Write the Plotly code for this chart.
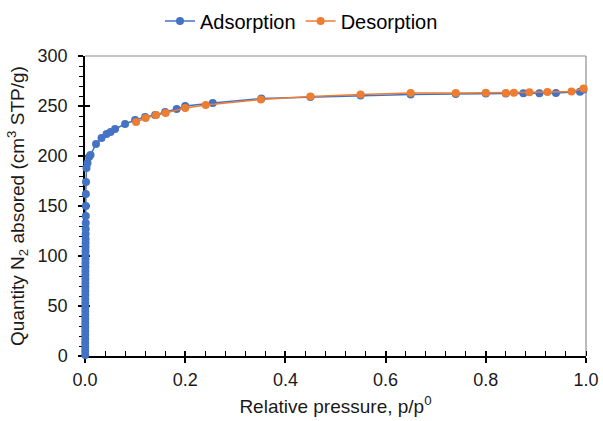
import plotly.graph_objects as go

# Adsorption branch
ads_x = [0.0004, 0.0004, 0.0004, 0.0004, 0.0005, 0.0005, 0.0005, 0.0005, 0.0005, 0.0005,
         0.0006, 0.0006, 0.0006, 0.0006, 0.0006, 0.0007, 0.0007, 0.0007, 0.0007, 0.0008,
         0.0008, 0.0008, 0.0009, 0.0009, 0.0010, 0.0010, 0.0011, 0.0011, 0.0012, 0.0012,
         0.0013, 0.0014, 0.0015, 0.0016, 0.0017, 0.0018, 0.0020,
         0.003, 0.005, 0.008, 0.011, 0.022, 0.033, 0.043, 0.051, 0.060, 0.080,
         0.100, 0.120, 0.140, 0.160, 0.183, 0.200, 0.255, 0.352, 0.450, 0.550,
         0.650, 0.740, 0.800, 0.840, 0.875, 0.907, 0.940, 0.988, 0.995]
ads_y = [1, 5, 9, 13, 17, 21, 25, 29, 33, 37,
         41, 45, 49, 53, 57, 61, 65, 69, 73, 77,
         81, 85, 89, 93, 97, 101, 105, 109, 113, 117,
         122, 127, 133, 140, 150, 162, 174,
         188, 193, 199, 201, 212, 218, 222, 224, 227, 232,
         236, 239, 241, 244, 247, 250, 253, 257.5, 259, 260.5,
         261.5, 262, 262.5, 262.5, 262.7, 262.7, 263, 264.3, 266.5]

# Desorption branch
des_x = [0.995, 0.971, 0.923, 0.887, 0.856, 0.840, 0.800, 0.740, 0.650, 0.550,
         0.450, 0.351, 0.241, 0.200, 0.161, 0.142, 0.121, 0.102]
des_y = [267.5, 264.5, 264, 263.7, 263.3, 263, 263.3, 263, 263, 261.5,
         259.5, 256.5, 251, 248, 243, 241, 238, 234]

x_ticks = [0.0, 0.2, 0.4, 0.6, 0.8, 1.0]
y_ticks = [0, 50, 100, 150, 200, 250, 300]

BLUE = "#4472C4"
ORANGE = "#ED7D31"
FONT = "Liberation Sans, Arial, sans-serif"

fig = go.Figure()
fig.add_trace(go.Scatter(x=ads_x, y=ads_y, name="Adsorption", mode="lines+markers",
                         line=dict(color=BLUE, width=1.5),
                         marker=dict(color=BLUE, size=8), cliponaxis=False))
fig.add_trace(go.Scatter(x=des_x, y=des_y, name="Desorption", mode="lines+markers",
                         line=dict(color=ORANGE, width=1.5),
                         marker=dict(color=ORANGE, size=8), cliponaxis=False))
# dummy trace for overlay axes (inner half of crossing ticks)
fig.add_trace(go.Scatter(x=[None], y=[None], xaxis="x2", yaxis="y2",
                         showlegend=False, hoverinfo="skip"))

fig.update_layout(
    width=603, height=421,
    margin=dict(l=85, r=17, t=56, b=65),
    paper_bgcolor="white", plot_bgcolor="white",
    font=dict(family=FONT, size=18, color="#000000"),
    showlegend=True,
    legend=dict(orientation="h", xref="container", yref="container",
                x=0.5, xanchor="center", y=0.95, yanchor="middle",
                font=dict(size=20), itemwidth=30, tracegroupgap=0),
    xaxis=dict(range=[0, 1], tickvals=x_ticks, tickformat=".1f", automargin=False,
               showgrid=False, zeroline=False, showline=True,
               linecolor="#000000", linewidth=1.5,
               ticks="outside", ticklen=5, tickwidth=1.5, tickcolor="#000000",
               ticklabelstandoff=2,
               tickfont=dict(size=18, color="#1a1a1a"),
               minor=dict(dtick=0.04, ticks="inside", ticklen=5, tickwidth=1, tickcolor="#000000"),
               title=dict(text="Relative pressure, p/p<sup>0</sup>", standoff=10,
                          font=dict(size=19, color="#1a1a1a")),
               layer="below traces"),
    yaxis=dict(range=[0, 300], tickvals=y_ticks, automargin=False,
               showgrid=False, zeroline=False, showline=True,
               linecolor="#000000", linewidth=1.5,
               ticks="outside", ticklen=5, tickwidth=1.5, tickcolor="#000000",
               ticklabelstandoff=7,
               tickfont=dict(size=18, color="#1a1a1a"),
               minor=dict(dtick=10, ticks="outside", ticklen=4, tickwidth=1, tickcolor="#000000"),
               title=dict(text="Quantity N<sub>2</sub> absored (cm<sup>3</sup> STP/g)",
                          standoff=8, font=dict(size=19, color="#1a1a1a")),
               layer="below traces"),
    xaxis2=dict(range=[0, 1], overlaying="x", side="bottom", anchor="y",
                tickvals=x_ticks, ticks="inside", ticklen=5, tickwidth=1.5,
                tickcolor="#000000", showticklabels=False, showgrid=False,
                zeroline=False, showline=False, layer="below traces", automargin=False),
    yaxis2=dict(range=[0, 300], overlaying="y", side="left", anchor="x",
                tickvals=y_ticks, ticks="inside", ticklen=5, tickwidth=1.5,
                tickcolor="#000000", showticklabels=False, showgrid=False,
                zeroline=False, showline=False, layer="below traces", automargin=False),
    shapes=[
        dict(type="line", xref="paper", yref="paper", x0=0, x1=1, y0=1, y1=1,
             line=dict(color="#8c8c8c", width=1.2), layer="below"),
        dict(type="line", xref="paper", yref="paper", x0=1, x1=1, y0=0, y1=1,
             line=dict(color="#8c8c8c", width=1.2), layer="below"),
    ],
)

fig.write_html("out.html", config={"displayModeBar": False},
               post_script="document.body.style.margin='0';")
